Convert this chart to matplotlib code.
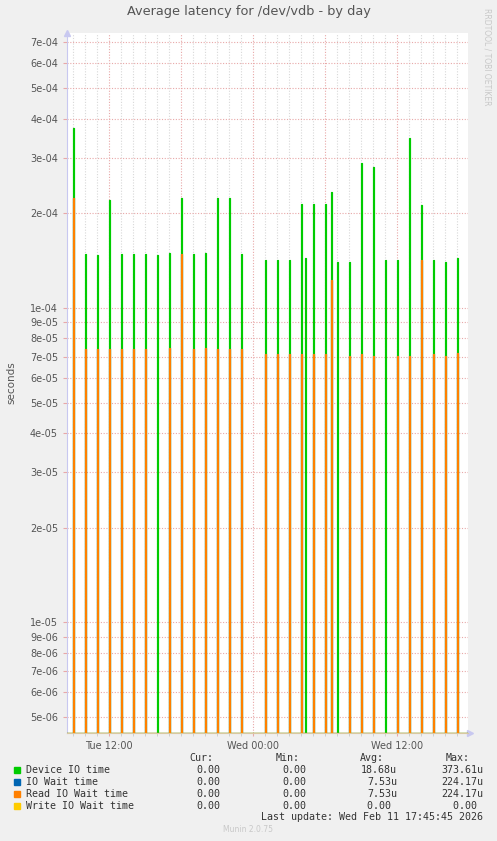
import matplotlib
matplotlib.use("Agg")
import matplotlib.pyplot as plt
import numpy as np

# spike times (hours since Tue 00:00) and values in seconds
spike_hours = [9, 10, 11, 12, 13, 14, 15, 16, 17, 18, 19, 20, 21, 22, 23,
               25, 26, 27, 28, 28.33, 29, 30, 30.5, 31, 32, 33, 34, 35, 36,
               37, 38, 39, 40, 41]
device_io = [3.72e-4, 1.48e-4, 1.47e-4, 2.21e-4, 1.48e-4, 1.48e-4, 1.48e-4,
             1.47e-4, 1.49e-4, 2.23e-4, 1.48e-4, 1.49e-4, 2.23e-4, 2.23e-4,
             1.48e-4,
             1.42e-4, 1.42e-4, 1.42e-4, 2.14e-4, 1.44e-4, 2.14e-4, 2.14e-4,
             2.33e-4, 1.40e-4, 1.40e-4, 2.88e-4, 2.80e-4, 1.42e-4, 1.42e-4,
             3.48e-4, 2.12e-4, 1.42e-4, 1.40e-4, 1.44e-4]
read_wait = [2.24e-4, 7.39e-5, 7.39e-5, 7.39e-5, 7.39e-5, 7.39e-5, 7.39e-5,
             0, 7.46e-5, 1.48e-4, 7.39e-5, 7.46e-5, 7.39e-5, 7.39e-5,
             7.39e-5,
             7.14e-5, 7.14e-5, 7.14e-5, 7.14e-5, 0, 7.14e-5, 7.14e-5,
             1.23e-4, 0, 7.04e-5, 7.14e-5, 7.04e-5, 0, 7.04e-5,
             7.04e-5, 1.42e-4, 7.14e-5, 7.04e-5, 7.18e-5]
io_wait = read_wait
write_wait = [0] * len(spike_hours)

y_ticks = [7e-4, 6e-4, 5e-4, 4e-4, 3e-4, 2e-4, 1e-4, 9e-5, 8e-5, 7e-5, 6e-5,
           5e-5, 4e-5, 3e-5, 2e-5, 1e-5, 9e-6, 8e-6, 7e-6, 6e-6, 5e-6]
x_ticks = [12, 24, 36]
x_labels = ["Tue 12:00", "Wed 00:00", "Wed 12:00"]

legend_names = ["Device IO time", "IO Wait time", "Read IO Wait time", "Write IO Wait time"]
legend_colors = ["#00CC00", "#0066B3", "#FF8000", "#FFCC00"]
cur = ["0.00", "0.00", "0.00", "0.00"]
mins = ["0.00", "0.00", "0.00", "0.00"]
avgs = ["18.68u", "7.53u", "7.53u", "0.00 "]
maxs = ["373.61u", "224.17u", "224.17u", "0.00 "]

x0, x1 = 8.5, 41.9
y0, y1 = 4.45e-6, 7.48e-4

# 5 minute samples, zero between spikes
t = np.arange(x0, x1, 1 / 12)
def series(vals):
    s = np.zeros_like(t)
    for h, v in zip(spike_hours, vals):
        s[int(round((h - x0) * 12))] = v
    return np.clip(s, y0, None)

fig = plt.figure(figsize=(4.97, 8.41), dpi=100, facecolor="#F0F0F0")
ax = fig.add_axes([67 / 497, 1 - 733 / 841, 401 / 497, 700 / 841])
ax.set_facecolor("white")
ax.set_yscale("log")
ax.set_xlim(x0, x1)
ax.set_ylim(y0, y1)

for vals, col in zip([device_io, io_wait, read_wait, write_wait], legend_colors):
    ax.plot(t, series(vals), color=col, lw=0.85, drawstyle="steps-post", zorder=3)

# grid
for h in np.arange(9, 42):
    major = h % 6 == 0
    ax.axvline(h, color="#E8A8A8" if major else "#D8D8D8", lw=0.8,
               ls=(0, (1, 1.5)), zorder=1)
for v in y_ticks:
    ax.axhline(v, color="#E8A8A8", lw=0.8, ls=(0, (1, 1.5)), zorder=1)

ax.set_yticks(y_ticks)
ax.set_yticklabels(["%.0e" % v for v in y_ticks])
ax.yaxis.set_minor_locator(matplotlib.ticker.NullLocator())
ax.set_xticks(x_ticks)
ax.set_xticklabels(x_labels)
ax.set_xticks(np.arange(9, 42), minor=True)
ax.tick_params(axis="both", labelsize=7, colors="#555555", length=2, width=0.8)
ax.tick_params(axis="y", length=3, color="#E8A8A8")
ax.tick_params(axis="x", color="#E8A8A8")
ax.tick_params(axis="x", which="minor", length=2, color="#C8C8C8")
for lab in ax.get_xticklabels() + ax.get_yticklabels():
    lab.set_color("#555555")

for side in ["top", "right"]:
    ax.spines[side].set_visible(False)
ax.spines["left"].set_color("#C8C8F0")
ax.spines["bottom"].set_color("#D8C8A0")
ax.plot([0], [1], marker="^", color="#C8C8F0", ms=5, transform=ax.transAxes, clip_on=False)
ax.plot([1.005], [0], marker=">", color="#C8C8F0", ms=5, transform=ax.transAxes, clip_on=False)

ax.set_ylabel("seconds", fontsize=7.5, color="#555555", labelpad=10)
fig.text(0.5, 1 - 12 / 841, "Average latency for /dev/vdb - by day", ha="center",
         va="center", fontsize=9.3, color="#555555")
fig.text(487 / 497, 1 - 57 / 841, "RRDTOOL / TOBI OETIKER", rotation=270, ha="center",
         va="center", fontsize=5.5, color="#C8C8C8")

# legend block
mono = "DejaVu Sans Mono"
fs = 7.2
def fy(y):
    return 1 - y / 841

for x, txt in [(213, "Cur:"), (300, "Min:"), (384, "Avg:"), (470, "Max:")]:
    fig.text(x / 497, fy(758), txt, ha="right", va="center", family=mono, fontsize=fs, color="#333333")
for i, name in enumerate(legend_names):
    y = 770 + 12 * i
    fig.patches.append(plt.Rectangle((14 / 497, fy(y + 3)), 6 / 497, 6 / 841,
                                     transform=fig.transFigure, color=legend_colors[i]))
    fig.text(26 / 497, fy(y), name, ha="left", va="center", family=mono, fontsize=fs, color="#333333")
    fig.text(220 / 497, fy(y), cur[i], ha="right", va="center", family=mono, fontsize=fs, color="#333333")
    fig.text(306 / 497, fy(y), mins[i], ha="right", va="center", family=mono, fontsize=fs, color="#333333")
    fig.text(397 / 497, fy(y), avgs[i], ha="right", va="center", family=mono, fontsize=fs, color="#333333")
    fig.text(483 / 497, fy(y), maxs[i], ha="right", va="center", family=mono, fontsize=fs, color="#333333")
fig.text(483 / 497, fy(817), "Last update: Wed Feb 11 17:45:45 2026", ha="right", va="center",
         family=mono, fontsize=fs, color="#333333")
fig.text(248 / 497, fy(830), "Munin 2.0.75", ha="center", va="center", fontsize=5.5, color="#C8C8C8")

fig.savefig("out.png", dpi=100, facecolor=fig.get_facecolor())
